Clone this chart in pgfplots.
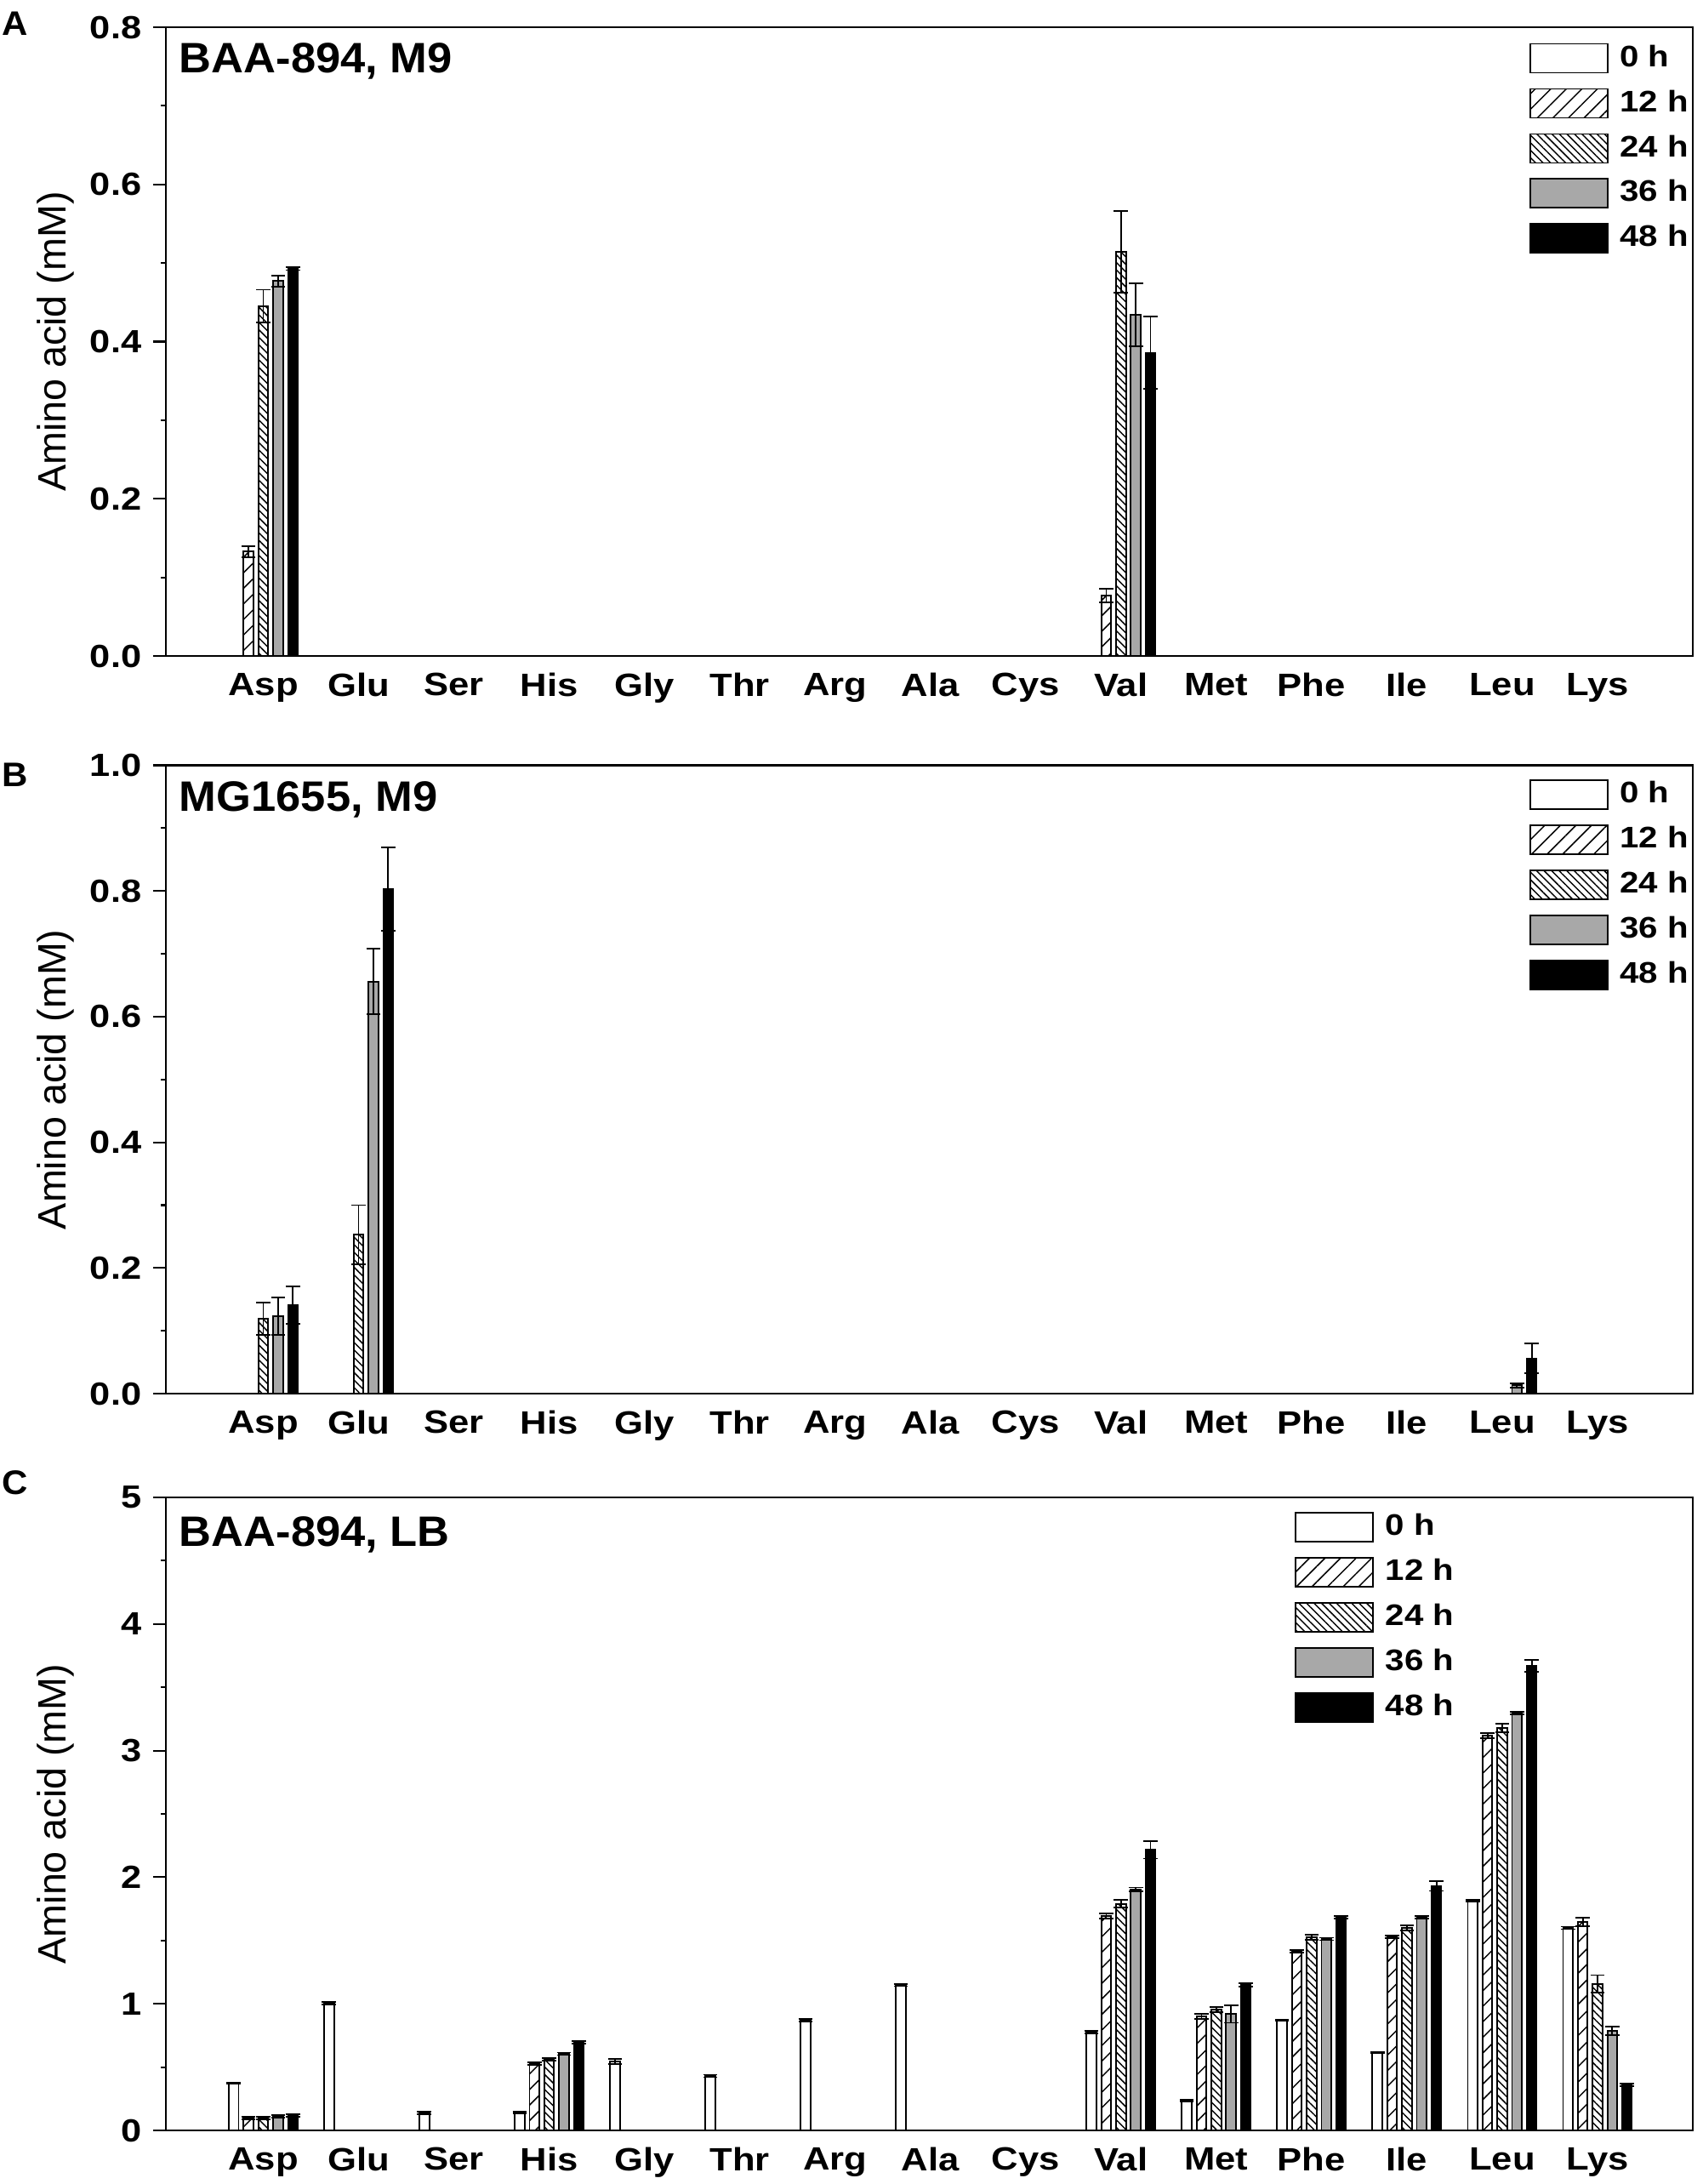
\documentclass[border=0pt]{standalone}
\usepackage{fontspec}
\setmainfont{Liberation Sans}
\newfontfamily\tfont{Liberation Sans}[FakeStretch=1.05]
\newfontfamily\kfont{Liberation Sans}[FakeStretch=1.15]
\usepackage{pgfplots}
\pgfplotsset{compat=1.18}
\usetikzlibrary{patterns.meta}
\definecolor{g36}{RGB}{168,168,168}

% Bars are placed at category index + offset of their series:
% 0 h: -0.31, 12 h: -0.155, 24 h: 0, 36 h: +0.155, 48 h: +0.31
\pgfplotsset{
  l0/.style={draw=black, fill=white},
  l12/.style={draw=black, pattern={Lines[angle=45,distance=3.1pt,line width=0.35pt]}, pattern color=black},
  l24/.style={draw=black, pattern={Lines[angle=-45,distance=1.5pt,line width=0.35pt]}, pattern color=black},
  l36/.style={draw=black, fill=g36},
  l48/.style={draw=black, fill=black},
  barc/.style={ybar, bar width=0.103, bar shift=0, line width=0.45pt, forget plot,
    error bars/y dir=both, error bars/y explicit,
    error bars/error bar style={line width=0.45pt, black, solid},
    error bars/error mark options={rotate=90, mark size=2pt, line width=0.45pt, black}},
  b0/.style={barc, l0},
  b12/.style={barc, l12},
  b24/.style={barc, l24},
  b36/.style={barc, l36},
  b48/.style={barc, l48},
  amino/.style={
    scale only axis, width=430.8pt,
    xmin=-1.022, xmax=15,
    xtick={0,...,14},
    xticklabels={Asp,Glu,Ser,His,Gly,Thr,Arg,Ala,Cys,Val,Met,Phe,Ile,Leu,Lys},
    tick style={black, line width=0.5pt},
    xtick style={draw=none},
    ytick pos=left,
    tick align=outside,
    major tick length=3.6pt, minor tick length=1.44pt,
    minor y tick num=1,
    axis line style={line width=0.6pt},
    ymin=0,
    xticklabel style={font=\kfont\bfseries\fontsize{9.1}{10}\selectfont, inner sep=0pt, yshift=-1.1pt},
    yticklabel style={font=\kfont\bfseries\fontsize{9.05}{10}\selectfont, inner sep=0pt, xshift=-3.1pt},
    /pgf/number format/assume math mode=true,
    ylabel={Amino acid (mM)},
    ylabel style={at={(axis description cs:-0.0724,0.5)}, anchor=center, font=\fontsize{11.2}{12}\selectfont},
    legend image code/.code={\draw[#1, line width=0.45pt] (0pt,-4.08pt) rectangle (21.84pt,4.08pt);},
    legend style={draw=none, fill=none, inner sep=0pt, row sep=4.1pt,
      font=\kfont\bfseries\fontsize{8.4}{10}\selectfont, nodes={inner sep=0pt},
      /tikz/every odd column/.append style={column sep=3.26pt}},
    legend cell align=left,
  },
}

\begin{document}
\begin{tikzpicture}
\useasboundingbox (0pt,0pt) rectangle (480.24pt,-616.08pt);

% Panel A
\begin{axis}[amino, at={(46.8pt,-185.04pt)}, anchor=south west, height=177.36pt,
  ymax=0.8, ytick={0,0.2,0.4,0.6,0.8},
  yticklabel style={/pgf/number format/fixed, /pgf/number format/fixed zerofill, /pgf/number format/precision=1},
  legend style={at={(axis description cs:0.8925,0.976)}, anchor=north west}]
\addlegendimage{l0}\addlegendentry{0 h}
\addlegendimage{l12}\addlegendentry{12 h}
\addlegendimage{l24}\addlegendentry{24 h}
\addlegendimage{l36}\addlegendentry{36 h}
\addlegendimage{l48}\addlegendentry{48 h}
\addplot[b12] coordinates {(-0.155,0.133) +- (0,0.007) (8.845,0.077) +- (0,0.009)};
\addplot[b24] coordinates {(0,0.445) +- (0,0.021) (9,0.514) +- (0,0.052)};
\addplot[b36] coordinates {(0.155,0.477) +- (0,0.007) (9.155,0.434) +- (0,0.040)};
\addplot[b48] coordinates {(0.31,0.493) +- (0,0.002) (9.31,0.386) +- (0,0.046)};
\node[anchor=north west, inner sep=0pt, font=\tfont\bfseries\fontsize{12}{14}\selectfont] at (axis description cs:0.0084,0.9756) {BAA-894, M9};
\end{axis}

% Panel B
\begin{axis}[amino, at={(46.8pt,-393.12pt)}, anchor=south west, height=177.24pt,
  ymax=1.0, ytick={0,0.2,0.4,0.6,0.8,1.0},
  yticklabel style={/pgf/number format/fixed, /pgf/number format/fixed zerofill, /pgf/number format/precision=1},
  legend style={at={(axis description cs:0.8925,0.979)}, anchor=north west}]
\addlegendimage{l0}\addlegendentry{0 h}
\addlegendimage{l12}\addlegendentry{12 h}
\addlegendimage{l24}\addlegendentry{24 h}
\addlegendimage{l36}\addlegendentry{36 h}
\addlegendimage{l48}\addlegendentry{48 h}
\addplot[b24] coordinates {(0,0.119) +- (0,0.026) (1,0.253) +- (0,0.047)};
\addplot[b36] coordinates {(0.155,0.123) +- (0,0.030) (1.155,0.656) +- (0,0.052) (13.155,0.013) +- (0,0.003)};
\addplot[b48] coordinates {(0.31,0.141) +- (0,0.030) (1.31,0.803) +- (0,0.066) (13.31,0.056) +- (0,0.024)};
\node[anchor=north west, inner sep=0pt, font=\tfont\bfseries\fontsize{12}{14}\selectfont] at (axis description cs:0.0084,0.9756) {MG1655, M9};
\end{axis}

% Panel C
\begin{axis}[amino, at={(46.8pt,-600.96pt)}, anchor=south west, height=178.56pt,
  ymax=5, ytick={0,1,2,3,4,5},
  legend style={at={(axis description cs:0.739,0.9785)}, anchor=north west}]
\addlegendimage{l0}\addlegendentry{0 h}
\addlegendimage{l12}\addlegendentry{12 h}
\addlegendimage{l24}\addlegendentry{24 h}
\addlegendimage{l36}\addlegendentry{36 h}
\addlegendimage{l48}\addlegendentry{48 h}
\addplot[b0] coordinates {(-0.31,0.374) +- (0,0.005) (0.69,1.007) +- (0,0.01) (1.69,0.139) +- (0,0.01) (2.69,0.142) +- (0,0.005) (3.69,0.545) +- (0,0.02) (4.69,0.43) +- (0,0.01) (5.69,0.872) +- (0,0.01) (6.69,1.149) +- (0,0.01) (8.69,0.776) +- (0,0.01) (9.69,0.235) +- (0,0.005) (10.69,0.872) +- (0,0.005) (11.69,0.616) +- (0,0.005) (12.69,1.815) +- (0,0.005) (13.69,1.60) +- (0,0.01)};
\addplot[b12] coordinates {(-0.155,0.10) +- (0,0.01) (2.845,0.527) +- (0,0.01) (8.845,1.694) +- (0,0.02) (9.845,0.90) +- (0,0.02) (10.845,1.416) +- (0,0.01) (11.845,1.53) +- (0,0.01) (12.845,3.117) +- (0,0.02) (13.845,1.648) +- (0,0.035)};
\addplot[b24] coordinates {(0,0.10) +- (0,0.01) (3,0.562) +- (0,0.01) (9,1.79) +- (0,0.03) (10,0.954) +- (0,0.02) (11,1.523) +- (0,0.02) (12,1.60) +- (0,0.02) (13,3.178) +- (0,0.035) (14,1.157) +- (0,0.07)};
\addplot[b36] coordinates {(0.155,0.11) +- (0,0.01) (3.155,0.605) +- (0,0.01) (9.155,1.904) +- (0,0.015) (10.155,0.92) +- (0,0.07) (11.155,1.512) +- (0,0.01) (12.155,1.683) +- (0,0.01) (13.155,3.295) +- (0,0.01) (14.155,0.786) +- (0,0.035)};
\addplot[b48] coordinates {(0.31,0.12) +- (0,0.01) (3.31,0.694) +- (0,0.01) (9.31,2.217) +- (0,0.07) (10.31,1.149) +- (0,0.015) (11.31,1.683) +- (0,0.01) (12.31,1.932) +- (0,0.04) (13.31,3.669) +- (0,0.045) (14.31,0.359) +- (0,0.01)};
\node[anchor=north west, inner sep=0pt, font=\tfont\bfseries\fontsize{12}{14}\selectfont] at (axis description cs:0.0084,0.971) {BAA-894, LB};
\end{axis}

\node[anchor=west, inner sep=0pt, font=\tfont\bfseries\fontsize{9.6}{11}\selectfont] at (0.5pt,-6.72pt) {A};
\node[anchor=west, inner sep=0pt, font=\tfont\bfseries\fontsize{9.6}{11}\selectfont] at (0.5pt,-218.64pt) {B};
\node[anchor=west, inner sep=0pt, font=\tfont\bfseries\fontsize{9.6}{11}\selectfont] at (0.5pt,-418.32pt) {C};
\end{tikzpicture}
\end{document}
